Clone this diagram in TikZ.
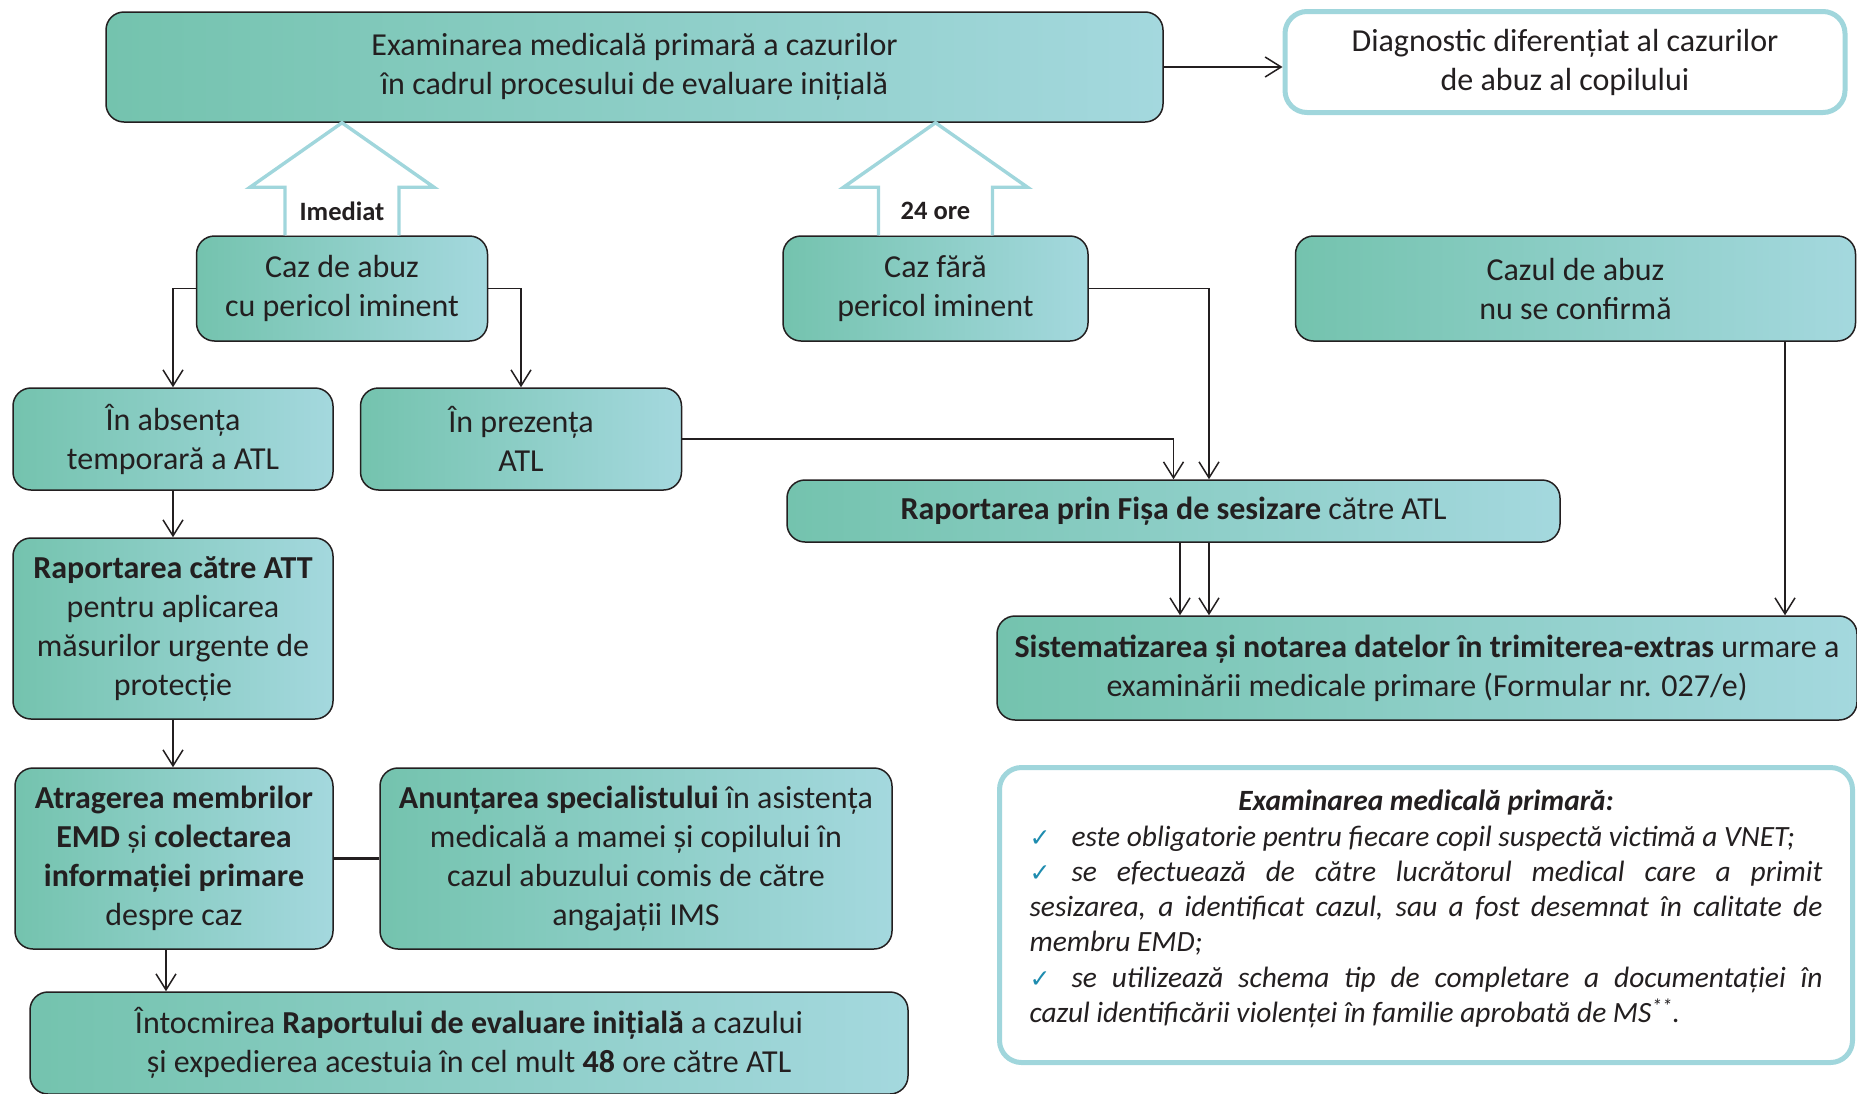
\documentclass[tikz,border=0pt]{standalone}
\usepackage{fontspec}
\setmainfont{Carlito}
\newfontfamily\symfont{DejaVu Sans}
\usetikzlibrary{arrows.meta,calc}
\definecolor{boxgreen}{RGB}{116,195,174}
\definecolor{boxblue}{RGB}{164,216,222}
\definecolor{rimblue}{RGB}{160,214,220}
\definecolor{inkgray}{RGB}{35,31,32}
\definecolor{tickblue}{RGB}{30,140,175}
\newcommand\checkitem{\makebox[42pt][l]{\textcolor{tickblue}{\symfont\upshape\fontsize{25}{25}\selectfont ✓}}}
\tikzset{
  stepbox/.style={draw=inkgray, line width=1.5pt, rounded corners=18pt,
    left color=boxgreen, right color=boxblue, align=center, text=inkgray,
    font=\fontsize{32}{39}\selectfont, inner sep=0pt},
  rimbox/.style={draw=rimblue, line width=5pt, rounded corners=22pt, fill=white,
    text=inkgray, inner sep=0pt},
  link/.style={draw=inkgray, line width=1.5pt, -{Straight Barb[length=16pt,width=20pt]}},
  tie/.style={draw=inkgray, line width=3.5pt},
  blockarrow/.style={draw=rimblue, line width=3.4pt, fill=white},
  steplabel/.style={text=inkgray, font=\fontsize{26.5}{30}\selectfont\bfseries}
}
\begin{document}
\begin{tikzpicture}[x=1pt,y=-1pt]
  \useasboundingbox (0,0) rectangle (1857,1093);

  \node[stepbox, minimum width=1057, minimum height=110] (top) at (634.5,67)
    {Examinarea medicală primară a cazurilor\\ în cadrul procesului de evaluare inițială};
  \node[rimbox, align=center, font=\fontsize{32}{39}\selectfont, minimum width=560, minimum height=101] (diag) at (1565,62)
    {Diagnostic diferențiat al cazurilor\\ de abuz al copilului};

  \node[stepbox, minimum width=291, minimum height=105] (caz1) at (342,288.5) {Caz de abuz\\ cu pericol iminent};
  \node[stepbox, minimum width=305, minimum height=105] (caz2) at (935.5,288.5) {Caz fără\\ pericol iminent};
  \node[stepbox, minimum width=560, minimum height=105] (nuconf) at (1575.5,288.5) {Cazul de abuz\\ nu se confirmă};

  \node[stepbox, minimum width=320, minimum height=102] (abs) at (173,439) {În absența\\ temporară a ATL};
  \node[stepbox, minimum width=321, minimum height=102] (prez) at (521,439) {În prezența\\ ATL};
  \node[stepbox, minimum width=773, minimum height=62] (fisa) at (1173.5,511)
    {\textbf{Raportarea prin Fișa de sesizare} către ATL};

  \node[stepbox, minimum width=320, minimum height=181] (att) at (173,628.5)
    {\textbf{Raportarea către ATT}\\ pentru aplicarea\\ măsurilor urgente de\\ protecție};
  \node[stepbox, minimum width=860, minimum height=104] (sist) at (1427,668)
    {\textbf{Sistematizarea și notarea datelor în trimiterea-extras} urmare a\\ examinării medicale primare (Formular nr. 027/e)};

  \node[stepbox, minimum width=318, minimum height=181] (atrag) at (174,858.5)
    {\textbf{Atragerea membrilor}\\ \textbf{EMD} și \textbf{colectarea}\\ \textbf{informației primare}\\ despre caz};
  \node[stepbox, minimum width=512, minimum height=181] (anunt) at (636,858.5)
    {\textbf{Anunțarea specialistului} în asistența\\ medicală a mamei și copilului în\\ cazul abuzului comis de către\\ angajații IMS};
  \node[stepbox, minimum width=878, minimum height=102] (intoc) at (469,1043)
    {Întocmirea \textbf{Raportului de evaluare inițială} a cazului\\ și expedierea acestuia în cel mult \textbf{48} ore către ATL};

  \node[rimbox, text width=793pt, inner xsep=30pt, minimum height=295, align=justify,
    font=\fontsize{29.4}{35.3}\selectfont\itshape] (note) at (1426,915)
    {\parindent=0pt{\centering\bfseries Examinarea medicală primară:\par}
     \checkitem este obligatorie pentru fiecare copil suspectă victimă a VNET;\par
     \checkitem se efectuează de către lucrătorul medical care a primit\linebreak
     sesizarea, a identificat cazul, sau a fost desemnat în calitate de\linebreak
     membru EMD;\par
     \checkitem se utilizează schema tip de completare a documentației în\linebreak
     cazul identificării violenței în familie aprobată de MS\textsuperscript{**}.\par
     \vspace{12pt}};

  \foreach \b/\t in {caz1/Imediat, caz2/24 ore} {
    \draw[blockarrow] ($(\b.north)+(-57,0)$) -- ++(0,-48) -- ++(-35,0)
      -- (\b.north |- top.south) -- ($(\b.north)+(92,-48)$) -- ++(-35,0) -- ++(0,48);
    \node[steplabel] at ($(\b.north)+(0,-24)$) {\t};
  }

  \coordinate (d0) at (166,0);
  \coordinate (d1) at (1209,0);
  \coordinate (d2) at (1180,0);
  \coordinate (d3) at (1785,0);

  \draw[link] (top.east) -- (top.east -| diag.west);
  \draw[link] (caz1.west) -| (abs.north);
  \draw[link] (caz1.east) -| (prez.north);
  \draw[link] (abs.south) -- (abs.south |- att.north);
  \draw[link] (att.south) -- (att.south |- atrag.north);
  \draw[link] (d0 |- atrag.south) -- (d0 |- intoc.north);
  \draw[tie] (atrag.east) -- (anunt.west);
  \draw[link] (prez.east) -| (fisa.north);
  \draw[link] (caz2.east) -| (d1 |- fisa.north);
  \draw[link] (d2 |- fisa.south) -- (d2 |- sist.north);
  \draw[link] (d1 |- fisa.south) -- (d1 |- sist.north);
  \draw[link] (d3 |- nuconf.south) -- (d3 |- sist.north);
\end{tikzpicture}
\end{document}
